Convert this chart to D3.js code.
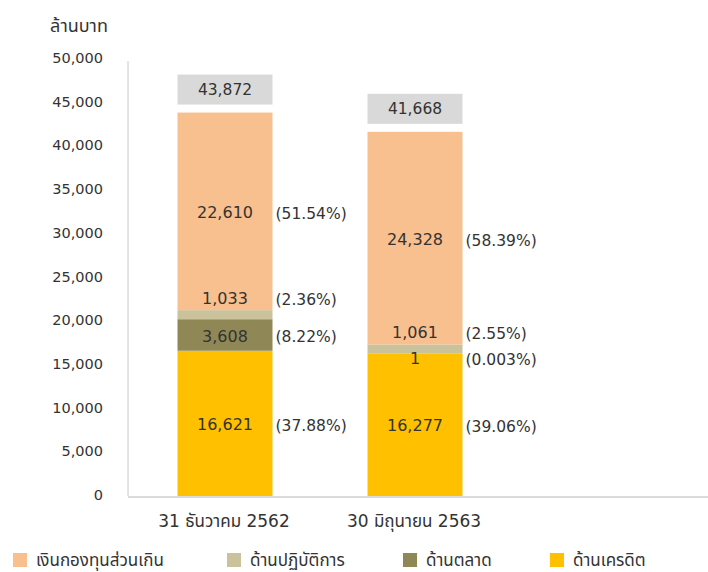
<!DOCTYPE html>
<html>
<head>
<meta charset="utf-8">
<script src="https://cdn.jsdelivr.net/npm/d3@7"></script>
<style>
  body { margin: 0; background: #fff; }
  text { font-family: "DejaVu Sans", "Noto Sans Thai", "Tlwg Typo", sans-serif; fill: #333; }
</style>
</head>
<body>
<div id="zone_graphique"></div>
<script>
// données
var categories = ["31 ธันวาคม 2562", "30 มิถุนายน 2563"];
var seriesNames = ["เงินกองทุนส่วนเกิน", "ด้านปฏิบัติการ", "ด้านตลาด", "ด้านเครดิต"];
var credit = [16621, 16277];
var market = [3608, 1];
var operational = [1033, 1061];
var excess = [22610, 24328];
var totals = [43872, 41668];
var pctCredit = ["37.88%", "39.06%"];
var pctMarket = ["8.22%", "0.003%"];
var pctOperational = ["2.36%", "2.55%"];
var pctExcess = ["51.54%", "58.39%"];
var yTicks = [0, 5000, 10000, 15000, 20000, 25000, 30000, 35000, 40000, 45000, 50000];

var largeur = 708, hauteur = 572;
var couleurs = {
  "เงินกองทุนส่วนเกิน": "#f8bf8f",
  "ด้านปฏิบัติการ": "#c9c29b",
  "ด้านตลาด": "#8f8856",
  "ด้านเครดิต": "#ffc000"
};

var svg = d3.select("#zone_graphique")
  .append("svg")
    .attr("width", largeur)
    .attr("height", hauteur);

var x = d3.scaleBand()
  .domain(categories)
  .range([130, 510])
  .paddingInner(0.5)
  .paddingOuter(0.25);

var y = d3.scaleLinear()
  .domain([0, 50000])
  .range([496, 59]);

// axe vertical
svg.append("line")
  .attr("x1", 128).attr("x2", 128)
  .attr("y1", y(50000) + 2).attr("y2", y(0))
  .attr("stroke", "#c8c8c8").attr("stroke-width", 1);

svg.append("g")
  .selectAll("text")
  .data(yTicks)
  .enter()
  .append("text")
    .attr("x", 103)
    .attr("y", function (d) { return y(d) - 1; })
    .attr("dy", "0.35em")
    .attr("text-anchor", "end")
    .attr("font-size", "14.5px")
    .text(function (d) { return d3.format(",")(d); });

svg.append("text")
  .attr("x", 79).attr("y", 26)
  .attr("dy", "0.35em")
  .attr("text-anchor", "middle")
  .attr("font-size", "18px")
  .text("ล้านบาท");

// empilement : crédit en bas, excédent en haut
var rows = categories.map(function (c, i) {
  return {cat: c, "ด้านเครดิต": credit[i], "ด้านตลาด": market[i], "ด้านปฏิบัติการ": operational[i], "เงินกองทุนส่วนเกิน": excess[i],
          pct: {"ด้านเครดิต": pctCredit[i], "ด้านตลาด": pctMarket[i], "ด้านปฏิบัติการ": pctOperational[i], "เงินกองทุนส่วนเกิน": pctExcess[i]},
          total: totals[i]};
});
var ordre = ["ด้านเครดิต", "ด้านตลาด", "ด้านปฏิบัติการ", "เงินกองทุนส่วนเกิน"];
var stack = d3.stack().keys(ordre)(rows);

var segments = [];
stack.forEach(function (s) {
  s.forEach(function (d) {
    segments.push({key: s.key, y0: d[0], y1: d[1], v: d.data[s.key], cat: d.data.cat, pct: d.data.pct[s.key]});
  });
});

svg.append("g")
  .selectAll("rect")
  .data(segments)
  .enter()
  .append("rect")
    .attr("x", function (d) { return x(d.cat); })
    .attr("width", x.bandwidth())
    .attr("y", function (d) { return y(d.y1); })
    .attr("height", function (d) { return y(d.y0) - y(d.y1); })
    .attr("fill", function (d) { return couleurs[d.key]; });

// ligne de base
svg.append("line")
  .attr("x1", 128).attr("x2", largeur)
  .attr("y1", y(0) + 1).attr("y2", y(0) + 1)
  .attr("stroke", "#cfcfcf").attr("stroke-width", 1.5);

// position verticale des étiquettes
function labelY(d) {
  var h = y(d.y0) - y(d.y1);
  if (d.key == "ด้านปฏิบัติการ") return y(d.y1) - 12;
  if (h < 4) return y(d.y0) + 5;
  return (y(d.y0) + y(d.y1)) / 2 + 1;
}

svg.append("g")
  .selectAll("text")
  .data(segments)
  .enter()
  .append("text")
    .attr("x", function (d) { return x(d.cat) + x.bandwidth() / 2; })
    .attr("y", labelY)
    .attr("dy", "0.35em")
    .attr("text-anchor", "middle")
    .attr("font-size", "16px")
    .attr("fill", "#3a2f1a")
    .text(function (d) { return d3.format(",")(d.v); });

svg.append("g")
  .selectAll("text")
  .data(segments)
  .enter()
  .append("text")
    .attr("x", function (d) { return x(d.cat) + x.bandwidth() + 3; })
    .attr("y", function (d) { return labelY(d) + 1; })
    .attr("dy", "0.35em")
    .attr("font-size", "15.5px")
    .text(function (d) { return "(" + d.pct + ")"; });

// boîtes du total
var tot = svg.append("g")
  .selectAll("g")
  .data(rows)
  .enter()
  .append("g");
tot.append("rect")
  .attr("x", function (d) { return x(d.cat); })
  .attr("width", x.bandwidth())
  .attr("y", function (d) { return y(d.total) - 38; })
  .attr("height", 30)
  .attr("fill", "#d9d9d9");
tot.append("text")
  .attr("x", function (d) { return x(d.cat) + x.bandwidth() / 2; })
  .attr("y", function (d) { return y(d.total) - 23; })
  .attr("dy", "0.35em")
  .attr("text-anchor", "middle")
  .attr("font-size", "15.5px")
  .text(function (d) { return d3.format(",")(d.total); });

// catégories
svg.append("g")
  .selectAll("text")
  .data(categories)
  .enter()
  .append("text")
    .attr("x", function (d) { return x(d) + x.bandwidth() / 2 - 1; })
    .attr("y", 521)
    .attr("dy", "0.35em")
    .attr("text-anchor", "middle")
    .attr("font-size", "17px")
    .text(function (d) { return d; });

// légende
var legendX = [13, 227, 403, 550];
var leg = svg.append("g")
  .selectAll("g")
  .data(seriesNames)
  .enter()
  .append("g")
    .attr("transform", function (d, i) { return "translate(" + legendX[i] + ",553)"; });
leg.append("rect")
  .attr("width", 14).attr("height", 14)
  .attr("fill", function (d) { return couleurs[d]; });
leg.append("text")
  .attr("x", 23).attr("y", 7)
  .attr("dy", "0.35em")
  .attr("font-size", "17px")
  .text(function (d) { return d; });
</script>
</body>
</html>
